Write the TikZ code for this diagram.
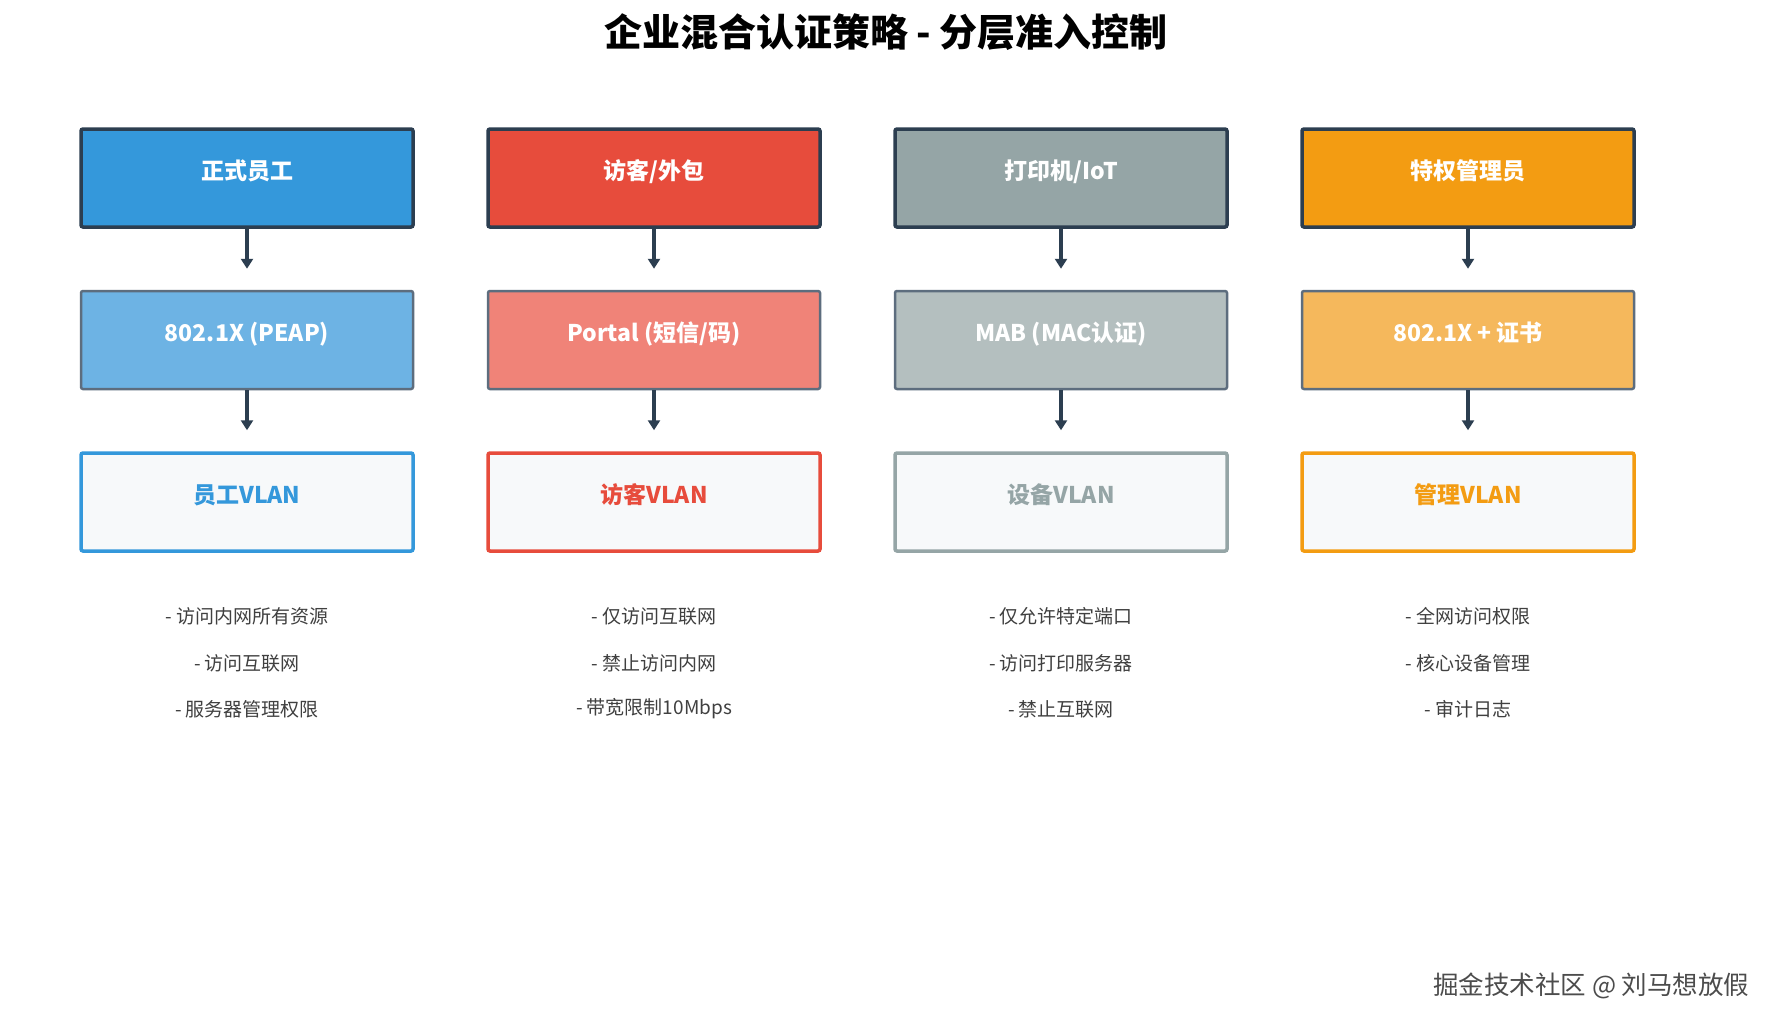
\documentclass[tikz,border=0pt]{standalone}
\usepackage{fontspec}
\setmainfont{Noto Sans CJK SC}
\usetikzlibrary{arrows.meta}
\definecolor{dk}{HTML}{2C3E50}
\definecolor{mid}{HTML}{5D6D7E}
\definecolor{cA}{HTML}{3498DB}\definecolor{lA}{HTML}{6DB3E4}
\definecolor{cB}{HTML}{E74C3C}\definecolor{lB}{HTML}{F08378}
\definecolor{cC}{HTML}{95A5A6}\definecolor{lC}{HTML}{B4BFBF}
\definecolor{cD}{HTML}{F39C12}\definecolor{lD}{HTML}{F5B85C}
\definecolor{bg}{HTML}{F7F9FA}
\newcommand{\up}[1]{\raisebox{-1pt}[0pt][0pt]{#1}}
\tikzset{
 box/.style={rounded corners=2pt,minimum width=332pt,minimum height=98pt,font=\fontsize{23}{23}\selectfont\bfseries,text=white},
 top/.style={box,draw=dk,line width=3.5pt,fill=#1},
 mid/.style={box,draw=mid,line width=2.5pt,fill=#1},
 bot/.style={box,draw=#1,line width=3.5pt,fill=bg,text=#1},
 arr/.style={draw=dk,line width=3.5pt,-{Triangle[length=10pt,width=12pt]}},
 note/.style={font=\fontsize{19}{19}\selectfont,text=black!75}
}
\begin{document}
\begin{tikzpicture}[x=1pt,y=-1pt]
\fill[white] (0,0) rectangle (1773,1025);
\node[font=\fontsize{38}{38}\selectfont\bfseries] (title) at (886,32) {企业混合认证策略 - 分层准入控制};
\foreach \i/\x/\a/\b/\c/\l/\m/\n in {
 A/247/{正式员工}/{802.1X (PEAP)}/{员工VLAN}/{- 访问内网所有资源}/{- 访问互联网}/{- 服务器管理权限},
 B/654/{访客/外包}/{Portal (短信/码)}/{访客VLAN}/{- 仅访问互联网}/{- 禁止访问内网}/{- 带宽限制10Mbps},
 C/1061/{打印机/IoT}/{MAB (MAC认证)}/{设备VLAN}/{- 仅允许特定端口}/{- 访问打印服务器}/{- 禁止互联网},
 D/1468/{特权管理员}/{802.1X + 证书}/{管理VLAN}/{- 全网访问权限}/{- 核心设备管理}/{- 审计日志}}{
 \node[top=c\i] (t\i) at (\x,178) {\up{\a}};
 \node[mid=l\i] (m\i) at (\x,340) {\up{\b}};
 \node[bot=c\i] (b\i) at (\x,502) {\up{\c}};
 \draw[arr] (t\i.south) -- ([yshift=-40pt]t\i.south);
 \draw[arr] (m\i.south) -- ([yshift=-40pt]m\i.south);
 \node[note] (n1\i) at (\x,616) {\l};
 \node[note] (n2\i) at (\x,663) {\m};
 \node[note] (n3\i) at (\x,709) {\n};
}
\node[font=\fontsize{25.5}{25.5}\selectfont,text=black!70,anchor=east] (wm) at (1753,986) {掘金技术社区 @ 刘马想放假};
\end{tikzpicture}
\end{document}
